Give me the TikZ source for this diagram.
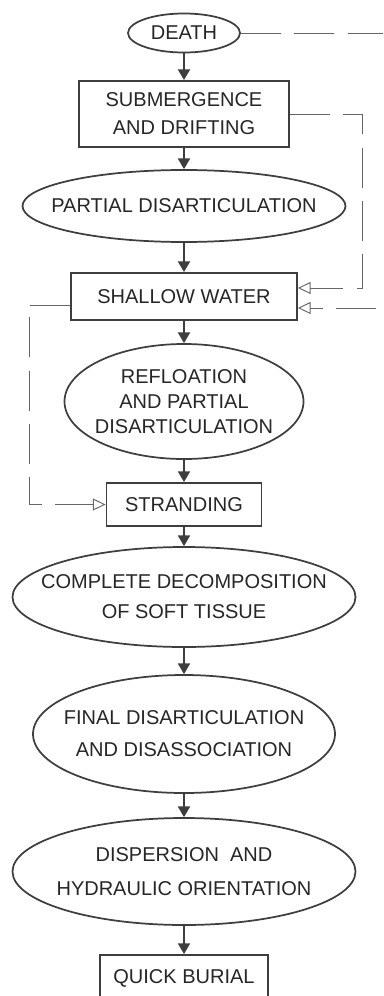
\documentclass[tikz,border=0pt]{standalone}
\usepackage{fontspec}
\setmainfont{Liberation Sans}
\usetikzlibrary{shapes.geometric, arrows.meta}
\definecolor{ink}{HTML}{3E3E3E}
\definecolor{txt}{HTML}{262626}
\definecolor{dashgray}{HTML}{666666}

\begin{document}
\begin{tikzpicture}[x=0.75pt, y=-0.75pt,
        every node/.style={text=txt, align=center, font=\fontsize{15}{18.75}\selectfont},
        box/.style={rectangle, draw=ink, line width=1.4pt, inner sep=0pt},
        oval/.style={ellipse, draw=ink, line width=1.3pt, inner xsep=-32pt, inner ysep=0pt},
        flow/.style={draw=ink, line width=1.2pt, -{Triangle[width=9pt, length=8pt]}},
        back/.style={draw=dashgray, line width=0.7pt, dash pattern=on 30pt off 10pt,
            -{Triangle[open, width=9pt, length=9.5pt, fill=white]}}]
        \useasboundingbox (0,0) rectangle (383,996);
        \clip (0,0) rectangle (383,996);
        % stages
        \node[oval, minimum width=84pt, minimum height=29.25pt] (death) at (184,33) {DEATH};
        \node[box, minimum width=157.5pt, minimum height=49.5pt] (sub) at (184,114) {SUBMERGENCE\\[2.25pt]AND DRIFTING};
        \node[oval, minimum width=242.25pt, minimum height=54pt] (pd) at (184,206) {PARTIAL DISARTICULATION};
        \node[box, minimum width=169.5pt, minimum height=35.25pt] (sw) at (184,296.5) {SHALLOW WATER};
        \node[oval, minimum width=179.25pt, minimum height=86.25pt] (refl) at (184,401.5) {REFLOATION\\AND PARTIAL\\DISARTICULATION};
        \node[box, minimum width=116.25pt, minimum height=32.25pt] (strand) at (184,504.5) {STRANDING};
        \node[oval, minimum width=257.25pt, minimum height=75pt] (cd) at (184,597) {COMPLETE DECOMPOSITION\\[3.75pt]OF SOFT TISSUE};
        \node[oval, minimum width=226.5pt, minimum height=88.5pt] (fd) at (184,734) {FINAL DISARTICULATION\\[5.25pt]AND DISASSOCIATION};
        \node[oval, minimum width=257.25pt, minimum height=80.25pt] (disp) at (184,871.5) {DISPERSION\ \ AND\\[6.75pt]HYDRAULIC ORIENTATION};
        \node[box, minimum width=126pt, minimum height=35.25pt] (qb) at (184,978.5) {QUICK BURIAL};
        % main sequence
        \foreach \a/\b in {death/sub, sub/pd, pd/sw, sw/refl, refl/strand, strand/cd, cd/fd, fd/disp, disp/qb}
            \draw[flow] (\a) -- (\b);
        % short cuts
        \draw[back] (death.east) -- ++(170,0) |- ([yshift=-8.6pt]sw.east);
        \draw[back] (sub.east) -- ++(73,0) |- ([yshift=6.4pt]sw.east);
        \draw[back] ([yshift=-6.4pt]sw.west) -- ++(-41,0) |- (strand.west);
    \end{tikzpicture}
\end{document}
